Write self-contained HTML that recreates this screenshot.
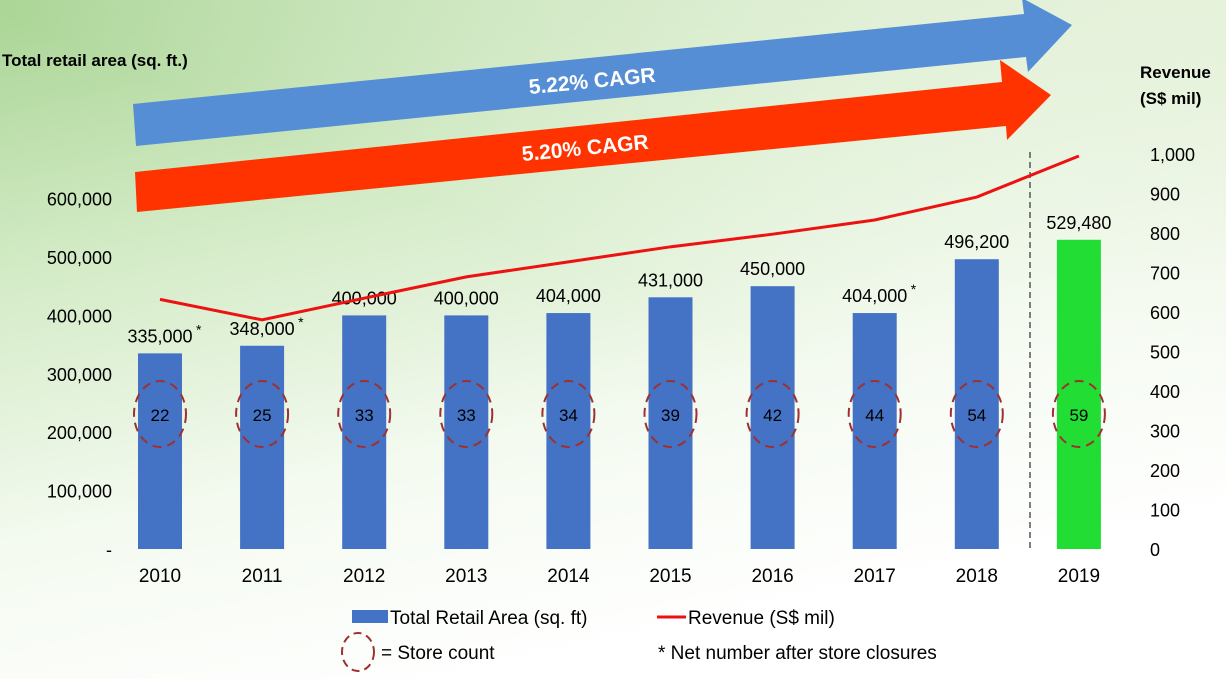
<!DOCTYPE html>
<html><head><meta charset="utf-8"><style>
body{margin:0;width:1226px;height:679px;overflow:hidden;font-family:"Liberation Sans",sans-serif;}
svg text{font-family:"Liberation Sans",sans-serif;}
</style></head><body>
<svg id="chart" width="1226" height="679" xmlns="http://www.w3.org/2000/svg">
<defs>
<linearGradient id="bg" x1="0" y1="0" x2="0.4" y2="1">
<stop offset="0" stop-color="#a9d494"/><stop offset="0.35" stop-color="#d3ebc6"/><stop offset="0.7" stop-color="#f4faf0"/><stop offset="1" stop-color="#ffffff"/>
</linearGradient>
<linearGradient id="bg2" x1="1" y1="0" x2="0.6" y2="0.5">
<stop offset="0" stop-color="#e8f2dc" stop-opacity="0.9"/><stop offset="1" stop-color="#ffffff" stop-opacity="0"/>
</linearGradient>
</defs>
<rect width="1226" height="679" fill="url(#bg)"/>
<rect width="1226" height="679" fill="url(#bg2)"/>
<g id="arrows">
<polygon fill="#568ed6" points="133,104 1024,14 1022,-2 1072,25 1028,72 1026,57 136,146"/>
<text x="592" y="88" fill="#fff" font-size="21" font-weight="bold" text-anchor="middle" transform="rotate(-5.6 592 80)">5.22% CAGR</text>
<polygon fill="#ff3300" points="135,172 1002,82 1000,60 1051,95 1007,140 1006,126 137,212"/>
<text x="585" y="155" fill="#fff" font-size="21" font-weight="bold" text-anchor="middle" transform="rotate(-5.6 585 147)">5.20% CAGR</text>
</g>
<text x="2" y="66" font-size="17" font-weight="bold">Total retail area (sq. ft.)</text>
<text x="1140" y="78" font-size="17" font-weight="bold">Revenue</text>
<text x="1140" y="104" font-size="17" font-weight="bold">(S$ mil)</text>
<line x1="1030" y1="152" x2="1030" y2="552" stroke="#555" stroke-dasharray="6,4" stroke-width="1.5"/>
<g id="marks"></g>
<g>
<rect x="352" y="610" width="36" height="13" fill="#4472c4"/>
<text x="390" y="624" font-size="19">Total Retail Area (sq. ft)</text>
<line x1="657" y1="617" x2="686" y2="617" stroke="#ee1111" stroke-width="3"/>
<text x="688" y="624" font-size="19">Revenue (S$ mil)</text>
<ellipse cx="358" cy="652" rx="16" ry="19" fill="none" stroke="#9e3030" stroke-width="2" stroke-dasharray="8,5"/>
<text x="381" y="659" font-size="19">= Store count</text>
<text x="658" y="659" font-size="19">* Net number after store closures</text>
</g>
</svg>
<script>
const years=["2010","2011","2012","2013","2014","2015","2016","2017","2018","2019"];
const area=[335000,348000,400000,400000,404000,431000,450000,404000,496200,529480];
const areaLabels=["335,000","348,000","400,000","400,000","404,000","431,000","450,000","404,000","496,200","529,480"];
const starred=[true,true,false,false,false,false,false,true,false,false];
const revenue=[632,580,635,689,727,765,797,833,891,995];
const stores=[22,25,33,33,34,39,42,44,54,59];
const leftTicks=[0,100000,200000,300000,400000,500000,600000];
const rightTicks=[0,100,200,300,400,500,600,700,800,900,1000];
const svg=document.getElementById('chart'),g=document.getElementById('marks');
const NS='http://www.w3.org/2000/svg';
const x=i=>160+i*102.1;
const yL=v=>549-v*58.4/100000;
const yR=v=>549-v*0.395;
function mk(t,a,txt){const e=document.createElementNS(NS,t);for(const k in a)e.setAttribute(k,a[k]);if(txt!==undefined)e.textContent=txt;g.appendChild(e);return e;}
leftTicks.forEach(v=>{const e=mk('text',{x:112,y:yL(v)+7,'font-size':18,'text-anchor':'end'},v===0?'-':v.toLocaleString('en-US'));

});
rightTicks.forEach(v=>{const e=mk('text',{x:1150,y:yR(v)+7,'font-size':18},v.toLocaleString('en-US'));

});
years.forEach((yr,i)=>{
const last=i===years.length-1;
const b=mk('rect',{x:x(i)-22,y:yL(area[i]),width:44,height:549-yL(area[i]),fill:last?'#22dd33':'#4472c4'});


const t=mk('text',{x:x(i),y:yL(area[i])-11,'font-size':18,'text-anchor':'middle'},areaLabels[i]);


if(starred[i]){const s=mk('text',{x:x(i)+36,y:yL(area[i])-19,'font-size':14},'*');

}
const c=mk('ellipse',{cx:x(i),cy:414,rx:26,ry:33,fill:'none',stroke:'#9e3030','stroke-width':2,'stroke-dasharray':'9,6'});


const sc=mk('text',{x:x(i),y:421,'font-size':17,'text-anchor':'middle'},stores[i]);


const xl=mk('text',{x:x(i),y:582,'font-size':19,'text-anchor':'middle'},yr);


});
const line=mk('polyline',{points:revenue.map((v,i)=>x(i)+','+yR(v)).join(' '),fill:'none',stroke:'#ee1111','stroke-width':3});


</script>
</body></html>
